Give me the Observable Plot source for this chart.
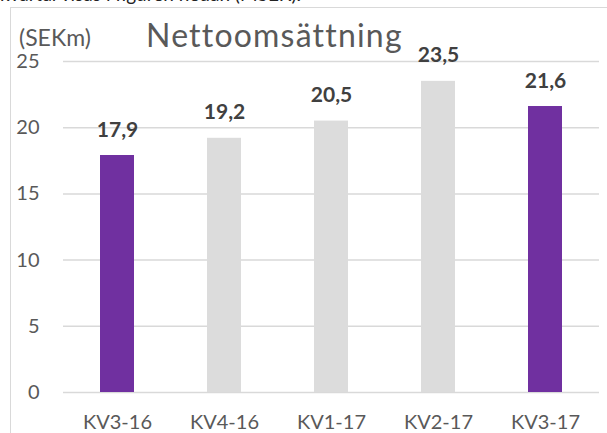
<!DOCTYPE html>
<html>
<head>
<meta charset="utf-8">
<script src="https://cdn.jsdelivr.net/npm/d3@7"></script>
<script src="https://cdn.jsdelivr.net/npm/@observablehq/plot@0.6"></script>
<style>
  html, body { margin: 0; padding: 0; background: #fff; overflow: hidden; }
  #wrap { position: relative; width: 607px; height: 433px; overflow: hidden; font-family: Lato, "Open Sans", sans-serif; }
  #note { position: absolute; left: 0; top: -17px; font-size: 19px; line-height: 1.2; color: #222; white-space: nowrap; }
  #frame { position: absolute; left: 10px; top: 7px; width: 700px; height: 500px; border: 1.5px solid #d9d9d9; box-sizing: border-box; }
  #unit { position: absolute; left: 19px; top: 26px; font-size: 23px; line-height: 1; color: #595959; white-space: nowrap; }
  #title { position: absolute; left: 146px; top: 19px; font-size: 32px; line-height: 1; letter-spacing: 1.2px; color: #595959; white-space: nowrap; }
  #chart { position: absolute; left: 0; top: 0; }
</style>
</head>
<body>
<div id="wrap">
  <div id="note">kvartal visas i figuren nedan (MSEK).</div>
  <div id="frame"></div>
  <div id="chart"></div>
  <div id="unit">(SEKm)</div>
  <div id="title">Nettoomsättning</div>
</div>
<script>
const categories = ["KV3-16", "KV4-16", "KV1-17", "KV2-17", "KV3-17"];
const values = [17.9, 19.2, 20.5, 23.5, 21.6];
const valueLabels = ["17,9", "19,2", "20,5", "23,5", "21,6"];
const highlighted = [true, false, false, false, true];
const yTicks = [0, 5, 10, 15, 20, 25];

const data = categories.map((c, i) => ({cat: c, value: values[i], label: valueLabels[i], hl: highlighted[i]}));

const chart = Plot.plot({
  width: 607,
  height: 433,
  marginLeft: 63,
  marginRight: 8,
  marginTop: 61,
  marginBottom: 41,
  style: {fontFamily: "Lato, 'Open Sans', sans-serif", background: "transparent", overflow: "visible"},
  x: {domain: categories, paddingInner: 0.68, paddingOuter: 0.34, label: null},
  y: {domain: [0, 25], ticks: yTicks, label: null},
  color: {domain: [true, false], range: ["#7030a0", "#dcdcdc"]},
  marks: [
    Plot.ruleY(yTicks, {stroke: "#d9d9d9", strokeWidth: 1.5}),
    Plot.barY(data, {x: "cat", y: "value", fill: "hl"}),
    Plot.text(data, {x: "cat", y: "value", text: "label", dy: -19, lineAnchor: "bottom", fontWeight: "bold", fontSize: 21, fill: "#404040"}),
    Plot.axisY({ticks: yTicks, tickSize: 0, tickPadding: 24, fontSize: 20, color: "#595959", label: null}),
    Plot.axisX({tickSize: 0, tickPadding: 22, fontSize: 20, color: "#595959", label: null})
  ]
});
document.getElementById("chart").appendChild(chart);
</script>
</body>
</html>
